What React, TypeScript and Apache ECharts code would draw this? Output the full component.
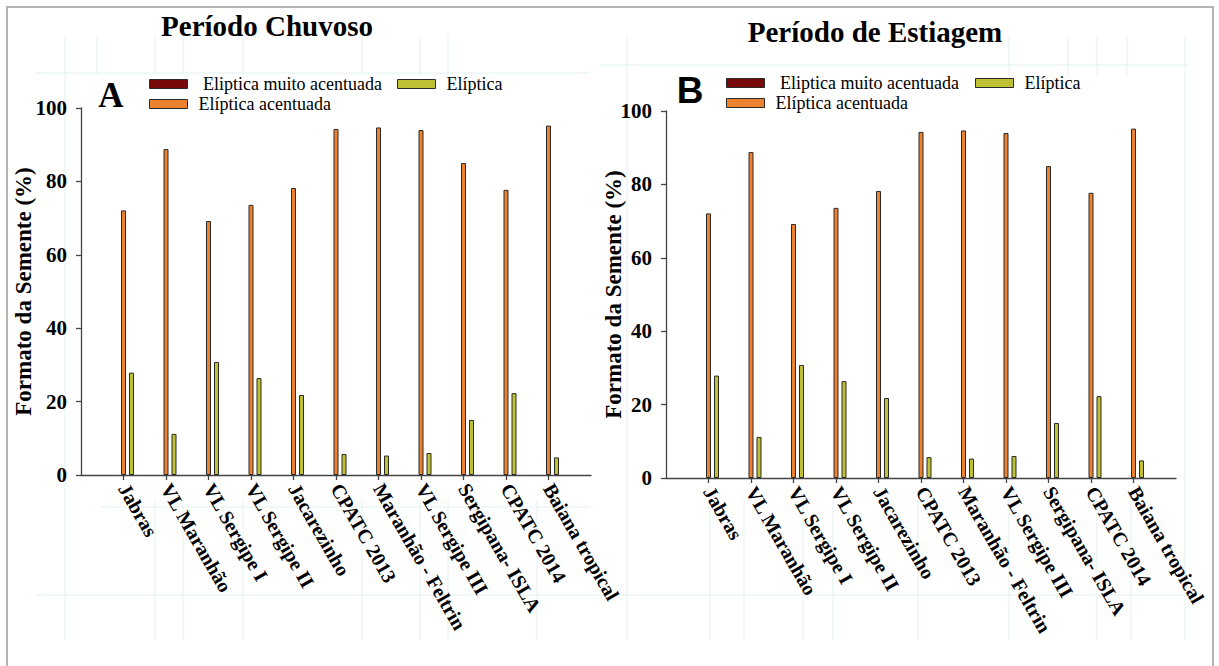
import React, { useEffect, useRef } from "react";
import * as echarts from "echarts";

// ---- data ----
const categories = [
  "Jabras",
  "VL Maranhão",
  "VL Sergipe I",
  "VL Sergipe II",
  "Jacarezinho",
  "CPATC 2013",
  "Maranhão - Feltrin",
  "VL Sergipe III",
  "Sergipana- ISLA",
  "CPATC 2014",
  "Baiana tropical",
];

// Período Chuvoso (A)
const rainyMuitoAcentuada = [0, 0, 0, 0, 0, 0, 0, 0, 0, 0, 0];
const rainyAcentuada = [72.1, 88.8, 69.2, 73.6, 78.2, 94.3, 94.7, 94.0, 85.0, 77.7, 95.2];
const rainyEliptica = [27.9, 11.2, 30.8, 26.4, 21.8, 5.7, 5.3, 6.0, 15.0, 22.3, 4.8];

// Período de Estiagem (B)
const dryMuitoAcentuada = [0, 0, 0, 0, 0, 0, 0, 0, 0, 0, 0];
const dryAcentuada = [72.1, 88.8, 69.2, 73.6, 78.2, 94.3, 94.7, 94.0, 85.0, 77.7, 95.2];
const dryEliptica = [27.9, 11.2, 30.8, 26.4, 21.8, 5.7, 5.3, 6.0, 15.0, 22.3, 4.8];

const seriesNames = [" Eliptica muito acentuada", "Elíptica acentuada", "Elíptica"];
const panelTitles = ["Período Chuvoso", "Período de Estiagem"];
const panelLetters = ["A", "B"];
const yAxisName = "Formato da Semente (%)";
const yMin = 0;
const yMax = 100;
const yInterval = 20;

// ---- styling ----
const SERIF = "Liberation Serif";
const SANS = "Liberation Sans";
const colors = ["#780a0a", "#ec8230", "#bfc034"];
const BORDER = "#2a2a2a";
const AXIS_COLOR = "#444";
const FAINT = "#e3f1f1";

const pad = <T,>(arr: T[], fill: T): T[] => [fill, ...arr, fill];

// faint background lines (page artefacts), as [x1, y1, x2, y2]
const faintLines: number[][] = [
  [35, 73, 590, 73],
  [600, 65, 1188, 65],
  [35, 595, 1190, 595],
  [100, 507, 590, 507],
  [65, 35, 65, 640],
  [97, 35, 97, 75],
  [155, 35, 155, 75],
  [183, 35, 183, 75],
  [243, 35, 243, 75],
  [362, 35, 362, 75],
  [420, 35, 420, 75],
  [448, 35, 448, 75],
  [155, 500, 155, 640],
  [183, 500, 183, 640],
  [243, 500, 243, 640],
  [362, 500, 362, 640],
  [420, 500, 420, 640],
  [448, 500, 448, 640],
  [537, 500, 537, 640],
  [627, 35, 627, 640],
  [710, 500, 710, 640],
  [744, 500, 744, 640],
  [803, 500, 803, 640],
  [833, 500, 833, 640],
  [918, 500, 918, 640],
  [1009, 35, 1009, 75],
  [1009, 500, 1009, 640],
  [1068, 35, 1068, 75],
  [1097, 35, 1097, 75],
  [1097, 500, 1097, 640],
  [1127, 35, 1127, 75],
  [1131, 500, 1131, 640],
  [1185, 35, 1185, 640],
];

export default function App() {
  const ref = useRef<HTMLDivElement>(null);

  useEffect(() => {
    document.body.style.margin = "0";
    if (!ref.current) return;
    const chart = echarts.init(ref.current, null, { renderer: "svg" });

    const grids = [
      { left: 81, top: 108, width: 510, height: 367 },
      { left: 666, top: 111, width: 510, height: 367 },
    ];

    const xAxes = grids.map((_, i) => ({
      type: "category",
      gridIndex: i,
      data: pad(categories, ""),
      boundaryGap: false,
      axisLine: { show: true, lineStyle: { color: AXIS_COLOR, width: 1.3 } },
      axisTick: {
        show: true,
        length: 5,
        interval: (_idx: number, val: string) => val !== "",
        lineStyle: { color: AXIS_COLOR, width: 1.3 },
      },
      axisLabel: {
        interval: 0,
        rotate: -60,
        margin: 10,
        fontFamily: SERIF,
        fontWeight: "bold",
        fontSize: 20,
        color: "#000",
      },
      splitLine: { show: false },
    }));

    const yAxes = grids.map((_, i) => ({
      type: "value",
      gridIndex: i,
      min: yMin,
      max: yMax,
      interval: yInterval,
      name: yAxisName,
      nameLocation: "middle",
      nameRotate: 90,
      nameGap: i === 0 ? 46 : 41,
      nameMoveOverlap: false,
      nameTextStyle: {
        fontFamily: SERIF,
        fontWeight: "bold",
        fontSize: 23,
        color: "#000",
      },
      axisLine: { show: true, lineStyle: { color: AXIS_COLOR, width: 1.3 } },
      axisTick: { show: true, length: 5, lineStyle: { color: AXIS_COLOR, width: 1.3 } },
      axisLabel: {
        margin: 14,
        fontFamily: SERIF,
        fontWeight: "bold",
        fontSize: 21,
        color: "#000",
      },
      splitLine: { show: false },
    }));

    const panelData = [
      [rainyMuitoAcentuada, rainyAcentuada, rainyEliptica],
      [dryMuitoAcentuada, dryAcentuada, dryEliptica],
    ];

    const series: any[] = [];
    panelData.forEach((sets, p) => {
      sets.forEach((vals, s) => {
        series.push({
          type: "bar",
          name: seriesNames[s],
          xAxisIndex: p,
          yAxisIndex: p,
          data: pad(vals as (number | null)[], null),
          barWidth: 5,
          barGap: "60%",
          itemStyle: {
            color: colors[s],
            borderColor: BORDER,
            borderWidth: s === 0 ? 0 : 1,
          },
          emphasis: { disabled: true },
        });
      });
    });

    const legendItem = (i: number) => ({
      name: seriesNames[i],
      itemStyle: { color: colors[i], borderColor: BORDER, borderWidth: 1 },
    });

    const legendBase = {
      orient: "vertical",
      icon: "rect",
      padding: 0,
      itemWidth: 38,
      itemHeight: 9,
      itemGap: 2,
      selectedMode: false,
      textStyle: {
        fontFamily: SERIF,
        fontSize: 18,
        color: "#000",
        padding: [0, 0, 0, 6],
      },
    };

    const textEl = (
      text: string,
      x: number,
      y: number,
      fontFamily: string,
      fontSize: number
    ) => ({
      type: "text",
      x,
      y,
      silent: true,
      style: {
        text,
        fontFamily,
        fontWeight: "bold",
        fontSize,
        fill: "#000",
        align: "center",
        verticalAlign: "middle",
      },
    });

    const option: any = {
      animation: false,
      backgroundColor: "#fff",
      grid: grids.map((g) => ({ ...g, containLabel: false, outerBoundsMode: "none" })),
      xAxis: xAxes,
      yAxis: yAxes,
      series,
      legend: [
        { ...legendBase, left: 149, top: 75, data: [legendItem(0), legendItem(1)] },
        { ...legendBase, left: 397, top: 75, data: [legendItem(2)] },
        { ...legendBase, left: 726, top: 74, data: [legendItem(0), legendItem(1)] },
        { ...legendBase, left: 975, top: 74, data: [legendItem(2)] },
      ],
      graphic: [
        ...faintLines.map(([x1, y1, x2, y2]) => ({
          type: "line",
          silent: true,
          z: -10,
          shape: { x1, y1, x2, y2 },
          style: { stroke: FAINT, lineWidth: 1 },
        })),
        {
          type: "rect",
          silent: true,
          shape: { x: 7, y: 7, width: 1206, height: 700 },
          style: { fill: "none", stroke: "#b4b4b4", lineWidth: 2 },
        },
        textEl(panelTitles[0], 267, 26, SERIF, 29),
        textEl(panelTitles[1], 875, 32, SERIF, 29),
        textEl(panelLetters[0], 111, 95, SERIF, 35),
        textEl(panelLetters[1], 690, 90, SANS, 37),
      ],
    };

    chart.setOption(option);
    return () => chart.dispose();
  }, []);

  return (
    <div
      ref={ref}
      style={{ position: "absolute", left: 0, top: 0, width: 1219, height: 666 }}
    />
  );
}
